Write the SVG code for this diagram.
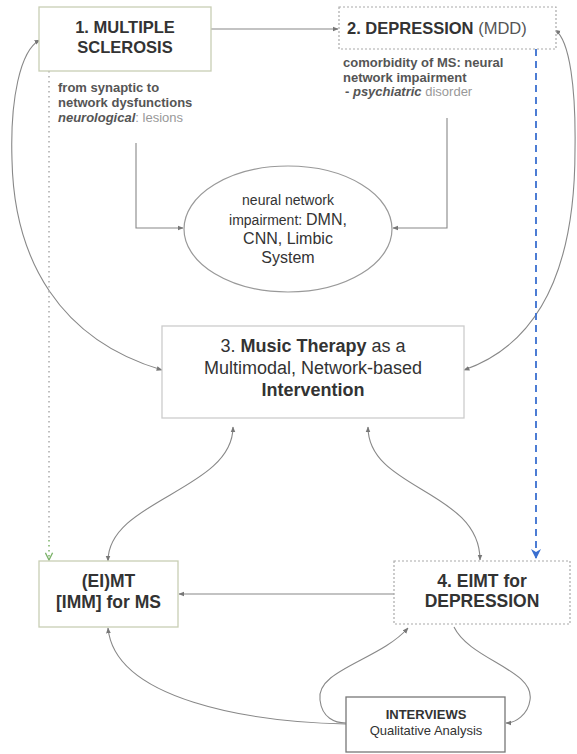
<svg xmlns="http://www.w3.org/2000/svg" width="577" height="754" viewBox="0 0 577 754">
<style>
text{font-family:"Liberation Sans",Arial,sans-serif;fill:#333}
.box{fill:#fff;stroke:#c8ceb4;stroke-width:1.3}
.dotbox{fill:#fff;stroke:#aaa;stroke-width:1.2;stroke-dasharray:2 2}
.plain{fill:#fff;stroke:#ccc;stroke-width:1.3}
.con{fill:none;stroke:#888;stroke-width:1.1}
.b{font-weight:bold}
.sub{font-size:13px;font-weight:bold;fill:#555}
.lt{font-weight:normal;fill:#999}
</style>
<defs>
<marker id="ah" viewBox="0 0 10 10" refX="9" refY="5" markerWidth="6" markerHeight="6" orient="auto-start-reverse" markerUnits="userSpaceOnUse"><path d="M0,1 L10,5 L0,9 z" fill="#777"/></marker>
<marker id="ahg" viewBox="0 0 10 10" refX="9" refY="5" markerWidth="9" markerHeight="9" orient="auto" markerUnits="userSpaceOnUse"><path d="M1,1 L9,5 L1,9" fill="none" stroke="#7cb36a" stroke-width="1.5"/></marker>
<marker id="ahb" viewBox="0 0 10 10" refX="9" refY="5" markerWidth="10" markerHeight="10" orient="auto" markerUnits="userSpaceOnUse"><path d="M0,0 L10,5 L0,10 L3,5 z" fill="#3a6fd0"/></marker>
</defs>

<g id="connectors">
<path class="con" d="M211,29 L338,29" marker-end="url(#ah)"/>
<path class="con" d="M136,143 L136,228 L183,228" marker-end="url(#ah)"/>
<path class="con" d="M447,118 L447,228 L393,228" marker-end="url(#ah)"/>
<path class="con" d="M40,40 C20,50 10,100 12,160 C14,260 60,340 162,370" marker-start="url(#ah)" marker-end="url(#ah)"/>
<path class="con" d="M555,30 C570,40 576,90 575,150 C575,250 550,340 464,370" marker-start="url(#ah)" marker-end="url(#ah)"/>
<path class="con" d="M108,561 C108,500 233,490 233,427" marker-start="url(#ah)" marker-end="url(#ah)"/>
<path class="con" d="M368,427 C368,490 480,490 480,560" marker-start="url(#ah)" marker-end="url(#ah)"/>
<path class="con" d="M394,594 L179,594" marker-end="url(#ah)"/>
<path class="con" d="M346,724 C250,722 115,700 108,628" marker-end="url(#ah)"/>
<path class="con" d="M346,723 C335,723 322,718 320,700 C315,670 380,660 408,628" marker-end="url(#ah)"/>
<path class="con" d="M454,627 C470,660 535,670 530,700 C528,715 515,723 506,723" marker-end="url(#ah)"/>
<path d="M49,71 L49,540" fill="none" stroke="#aaa" stroke-width="1.5" stroke-dasharray="1.5 3.5"/>
<path d="M49,540 L49,560" fill="none" stroke="#7cb36a" stroke-width="1.5" stroke-dasharray="1.5 3.5" marker-end="url(#ahg)"/>
<path d="M536,49 L536,558" fill="none" stroke="#3a6fd0" stroke-width="1.8" stroke-dasharray="7 5" marker-end="url(#ahb)"/>
</g>

<g id="n1">
<rect class="box" x="39" y="7" width="172" height="64"/>
<text x="125" y="33" text-anchor="middle" class="b" font-size="16.5">1. MULTIPLE</text>
<text x="125" y="53" text-anchor="middle" class="b" font-size="16.5">SCLEROSIS</text>
</g>
<g id="n1-notes">
<text x="58" y="92" class="sub">from synaptic to</text>
<text x="58" y="107" class="sub">network dysfunctions</text>
<text x="58" y="122" class="sub"><tspan font-style="italic">neurological</tspan><tspan class="lt">: lesions</tspan></text>
</g>

<g id="n2">
<rect class="dotbox" x="339" y="7" width="217" height="42"/>
<text x="347" y="34" font-size="16.5"><tspan class="b">2. DEPRESSION</tspan> <tspan fill="#555">(MDD)</tspan></text>
</g>
<g id="n2-notes">
<text x="343" y="67" class="sub">comorbidity of MS: neural</text>
<text x="343" y="81.5" class="sub">network impairment</text>
<text x="345" y="96" class="sub">- <tspan font-style="italic">psychiatric</tspan><tspan class="lt"> disorder</tspan></text>
</g>

<g id="ellipse">
<ellipse cx="288" cy="229" rx="104" ry="63" fill="#fff" stroke="#999" stroke-width="1.2"/>
<text x="288" y="205" text-anchor="middle" font-size="14" fill="#444">neural network</text>
<text x="288" y="225" text-anchor="middle" font-size="14" fill="#444">impairment: <tspan font-size="16">DMN,</tspan></text>
<text x="288" y="244" text-anchor="middle" font-size="16" fill="#444">CNN, Limbic</text>
<text x="288" y="263" text-anchor="middle" font-size="16" fill="#444">System</text>
</g>

<g id="n3">
<rect class="plain" x="162" y="326" width="302" height="92"/>
<text x="313" y="352" text-anchor="middle" font-size="18" fill="#444">3. <tspan class="b" fill="#333">Music Therapy</tspan> as a</text>
<text x="313" y="374" text-anchor="middle" font-size="18" fill="#444">Multimodal, Network-based</text>
<text x="313" y="396" text-anchor="middle" font-size="18" class="b">Intervention</text>
</g>

<g id="n-eimt-ms">
<rect class="box" x="39" y="561" width="139" height="66"/>
<text x="108.5" y="587" text-anchor="middle" class="b" font-size="17.5">(EI)MT</text>
<text x="108.5" y="608" text-anchor="middle" class="b" font-size="17.5">[IMM] for MS</text>
</g>

<g id="n4">
<rect class="dotbox" x="394" y="561" width="176" height="63"/>
<text x="482" y="587" text-anchor="middle" class="b" font-size="17.5">4. EIMT for</text>
<text x="482" y="607" text-anchor="middle" class="b" font-size="17.5">DEPRESSION</text>
</g>

<g id="interviews">
<rect x="346" y="697" width="159" height="55" fill="#fff" stroke="#777" stroke-width="1.3"/>
<text x="426" y="719" text-anchor="middle" class="b" font-size="13">INTERVIEWS</text>
<text x="426" y="735" text-anchor="middle" font-size="13" fill="#555">Qualitative Analysis</text>
</g>
</svg>
